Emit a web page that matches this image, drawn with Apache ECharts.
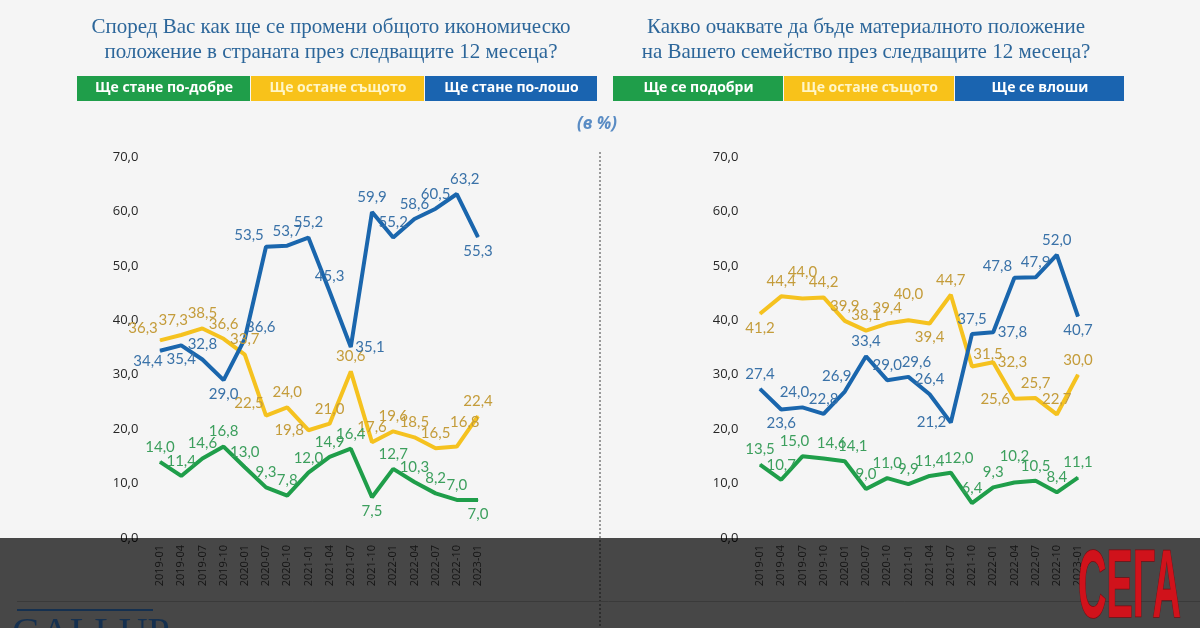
<!DOCTYPE html>
<html><head><meta charset="utf-8">
<script src="https://cdn.jsdelivr.net/npm/echarts@6/dist/echarts.min.js"></script>
<style>html,body{margin:0;padding:0;background:#f5f5f5}#c{width:1200px;height:628px}</style>
</head><body><div id="c"></div>
<script>
// ---- data ----
const categories = ['2019-01','2019-04','2019-07','2019-10','2020-01','2020-07','2020-10','2021-01','2021-04','2021-07','2021-10','2022-01','2022-04','2022-07','2022-10','2023-01'];
const yTicks = [0,10,20,30,40,50,60,70];
// Left chart: economic situation of the country
const leftBetter = [14.0,11.4,14.6,16.8,13.0,9.3,7.8,12.0,14.9,16.4,7.5,12.7,10.3,8.2,7.0,7.0];
const leftSame   = [36.3,37.3,38.5,36.6,33.7,22.5,24.0,19.8,21.0,30.6,17.6,19.6,18.5,16.5,16.8,22.4];
const leftWorse  = [34.4,35.4,32.8,29.0,36.6,53.5,53.7,55.2,45.3,35.1,59.9,55.2,58.6,60.5,63.2,55.3];
// Right chart: material situation of the family
const rightBetter = [13.5,10.7,15.0,14.6,14.1,9.0,11.0,9.9,11.4,12.0,6.4,9.3,10.2,10.5,8.4,11.1];
const rightSame   = [41.2,44.4,44.0,44.2,39.9,38.1,39.4,40.0,39.4,44.7,31.5,32.3,25.6,25.7,22.7,30.0];
const rightWorse  = [27.4,23.6,24.0,22.8,26.9,33.4,29.0,29.6,26.4,21.2,37.5,37.8,47.8,47.9,52.0,40.7];
const leftNames  = ['Ще стане по-добре','Ще остане същото','Ще стане по-лошо'];
const rightNames = ['Ще се подобри','Ще остане същото','Ще се влоши'];
const leftTitle  = ['Според Вас как ще се промени общото икономическо','положение в страната през следващите 12 месеца?'];
const rightTitle = ['Какво очаквате да бъде материалното положение','на Вашето семейство през следващите 12 месеца?'];

// ---- label placement (style, separate from values) ----
const lp_lB = ['t','t','t','t','t','t','t','t','t','t','b','t','t','t','t','b'];
const lp_lS = ['lt','tl','t','t','t','lt','t','l','t','t','t','t','t','t','ttr','t'];
const lp_lW = ['lb','b','t','b','rt','lt','t','t','t','r','t','t','t','t','tr','b'];
const lp_rB = ['t','t','tl','tr','tr','t','t','t','t','tr','t','t','tt','t','t','t'];
const lp_rS = ['b','t','tt','t','t','t','t','tt','b','t','rt','r','l','t','t','t'];
const lp_rW = ['t','b','tl','t','tl','t','t','tr','t','l','t','r','lt','t','t','b'];

const COL = {g:'#1f9e4a', y:'#f5c21f', b:'#1a66ad'};
const LCOL = {g:'#3c9f5d', y:'#c49c3a', b:'#3a72a8'};
const fmt = v => v.toFixed(1).replace('.', ',');

// code -> [position, distance, dx, dy]
const LABEL_CODES = {
  t:['top',7,0,0], b:['bottom',6,0,0], l:['left',4,0,0], r:['right',4,0,0],
  tt:['top',18,0,0], ttr:['top',16,8,0], tl:['top',7,-8,0], tr:['top',7,8,0],
  lt:['top',4,-17,0], rt:['top',4,16,0], lb:['bottom',2,-12,0]
};
function mkSeries(name, vals, pos, key, idx){
  return {
    name, type:'line', xAxisIndex:idx, yAxisIndex:idx,
    data: vals.map((v,i)=>({value:v, label:{show:true, position:LABEL_CODES[pos[i]][0], distance:LABEL_CODES[pos[i]][1]}})),
    symbol:'circle', symbolSize:1, showSymbol:true,
    lineStyle:{color:COL[key], width:4}, itemStyle:{color:COL[key]},
    label:{show:true, formatter:p=>fmt(p.value), color:LCOL[key], fontFamily:'Lato', fontSize:15},
    labelLayout:function(p){ const c = LABEL_CODES[pos[p.dataIndex]]; return {dx:c[2], dy:c[3]}; },
    z:3
  };
}
const gridW = 339.2;
function xAx(idx){
  return {type:'category', gridIndex:idx, data:categories, boundaryGap:true,
    axisLine:{show:false}, axisTick:{show:false},
    axisLabel:{rotate:90, interval:0, margin:7, color:'#4a4a4a', fontSize:11, fontFamily:'Open Sans'}};
}
function yAx(idx){
  return {type:'value', gridIndex:idx, min:yTicks[0], max:yTicks[yTicks.length-1], interval:10,
    axisLine:{show:false}, axisTick:{show:false}, splitLine:{show:false},
    axisLabel:{margin:11, color:'#262626', fontSize:13, fontFamily:'Open Sans', formatter:v=>fmt(v)}};
}
function legendBoxes(x0, widths, names){
  const els=[]; let x=x0; const cols=[COL.g, '#f8c21a', '#1a64b0']; const tc=['#fff','#fff6c8','#fff'];
  names.forEach((n,i)=>{
    els.push({type:'rect', shape:{x:x, y:76, width:widths[i]-1, height:25}, style:{fill:cols[i]}, z:5});
    els.push({type:'text', x:x+widths[i]/2, y:88.5, style:{text:n, fill:tc[i], font:'bold 14px "Open Sans"', textAlign:'center', textVerticalAlign:'middle'}, z:6});
    x+=widths[i];
  });
  return els;
}
function titleEls(cx, lines){
  return lines.map((t,i)=>({type:'text', x:cx, y:27+i*25, style:{text:t, fill:'#2c669a', font:'21px "Liberation Serif"', textAlign:'center', textVerticalAlign:'middle'}, z:5}));
}

const chart = echarts.init(document.getElementById('c'), null, {renderer:'canvas'});
chart.setOption({
  backgroundColor:'#f5f5f5',
  animation:false,
  grid:[{left:149.4, top:157, width:gridW, height:381},{left:749.4, top:157, width:gridW, height:381}],
  xAxis:[xAx(0), xAx(1)],
  yAxis:[yAx(0), yAx(1)],
  series:[
    mkSeries(leftNames[1], leftSame, lp_lS, 'y', 0),
    mkSeries(leftNames[0], leftBetter, lp_lB, 'g', 0),
    mkSeries(leftNames[2], leftWorse, lp_lW, 'b', 0),
    mkSeries(rightNames[1], rightSame, lp_rS, 'y', 1),
    mkSeries(rightNames[0], rightBetter, lp_rB, 'g', 1),
    mkSeries(rightNames[2], rightWorse, lp_rW, 'b', 1)
  ],
  graphic:[
    ...titleEls(331, leftTitle),
    ...titleEls(866, rightTitle),
    ...legendBoxes(77, [174,174,173], leftNames),
    ...legendBoxes(613, [171,171,170], rightNames),
    {type:'text', x:597, y:124, style:{text:'(в %)', fill:'#5a8cc4', font:'italic bold 17px "Open Sans"', textAlign:'center', textVerticalAlign:'middle'}, z:5},
    {type:'line', shape:{x1:600, y1:152, x2:600, y2:628}, style:{stroke:'#9a9a9a', lineWidth:2, lineDash:[2,2]}, z:5},
    {type:'line', shape:{x1:17, y1:601.5, x2:1200, y2:601.5}, style:{stroke:'#c8c8c8', lineWidth:1}, z:5},
    {type:'rect', shape:{x:0, y:538, width:1200, height:90}, style:{fill:'rgba(0,0,0,0.71)'}, z:50},
    {type:'line', shape:{x1:17, y1:610, x2:153, y2:610}, style:{stroke:'#15304f', lineWidth:2}, z:60},
    {type:'text', x:12, y:614, style:{text:'GALLUP', fill:'#15304f', font:'40px "Liberation Serif"', textAlign:'left', textVerticalAlign:'top'}, z:60},
    {type:'text', x:1078, y:591, scaleX:0.41, scaleY:1, style:{text:'СЕГА', fill:'#d0121b', stroke:'#7a0a10', lineWidth:1.5, font:'bold 96px "Liberation Sans"', textAlign:'left', textVerticalAlign:'middle'}, z:60}
  ]
});
</script></body></html>
